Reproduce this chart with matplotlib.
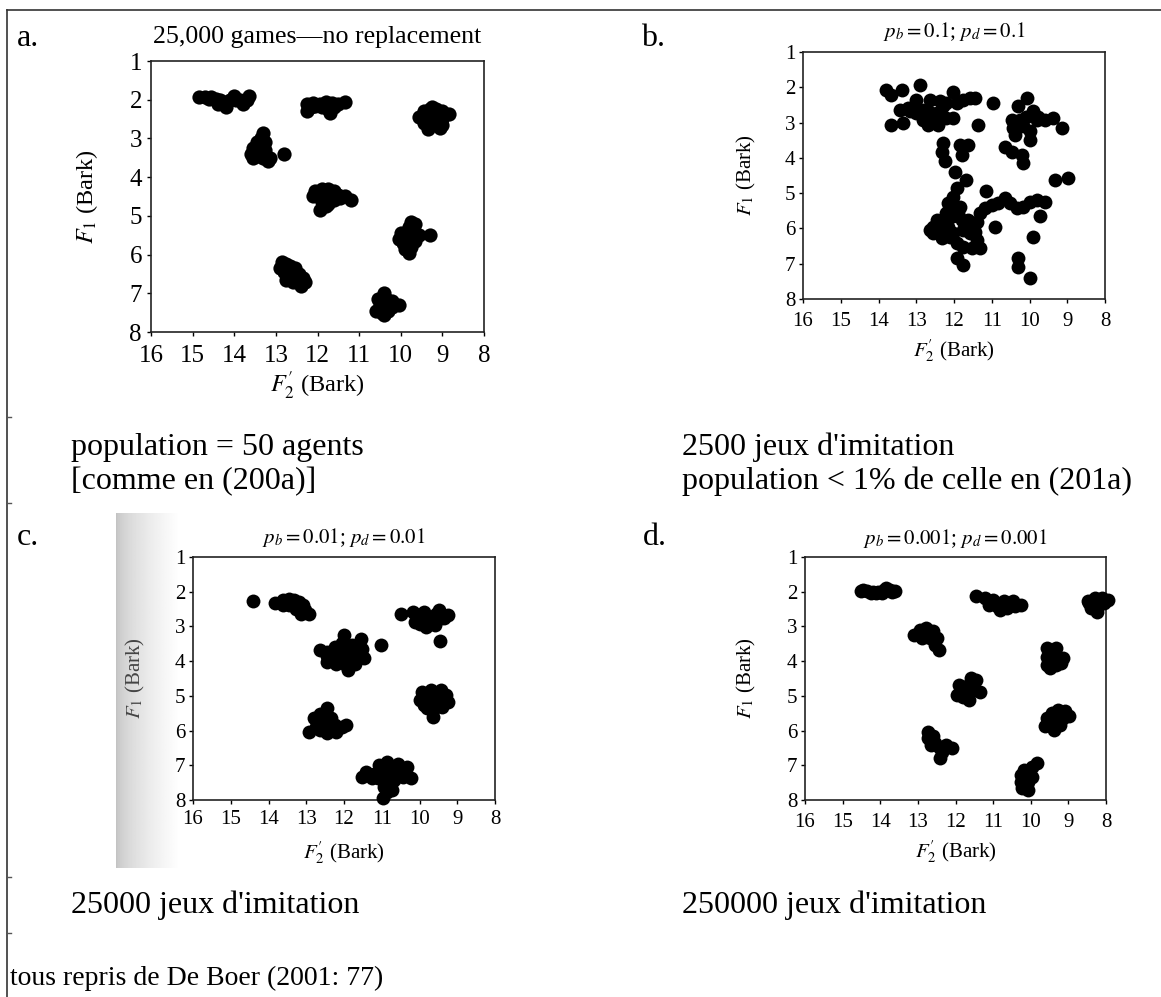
import numpy as np
import matplotlib.pyplot as plt
from matplotlib.lines import Line2D

plt.rcParams['font.family'] = 'serif'
plt.rcParams['font.serif'] = ['Liberation Serif', 'DejaVu Serif']
plt.rcParams['mathtext.fontset'] = 'stix'

W, H = 1161, 997

# vowel prototypes (F2', F1) in Bark
points_a = [
    (14.85, 1.93), (14.7, 1.93), (14.55, 1.92), (14.45, 1.97), (14.35, 2.0), (14.25, 2.05),
    (14.2, 2.2), (14.25, 2.12), (14.1, 2.0), (14.0, 1.9), (13.95, 2.0), (13.85, 2.0),
    (13.8, 2.1), (13.65, 1.9), (13.7, 2.0), (14.6, 1.98), (14.4, 2.1),
    (12.25, 2.1), (12.1, 2.08), (11.95, 2.1), (11.8, 2.05), (11.65, 2.08), (11.5, 2.1),
    (11.35, 2.07), (12.25, 2.3), (12.15, 2.2), (11.9, 2.2), (11.75, 2.25), (11.7, 2.35),
    (11.6, 2.2), (12.05, 2.15),
    (9.55, 2.45), (9.45, 2.3), (9.45, 2.6), (9.3, 2.25), (9.3, 2.45), (9.3, 2.65),
    (9.15, 2.25), (9.15, 2.45), (9.15, 2.6), (9.0, 2.3), (9.0, 2.5), (9.0, 2.65),
    (8.85, 2.38), (9.35, 2.75), (9.05, 2.72), (9.25, 2.2),
    (13.3, 2.85), (13.35, 3.0), (13.45, 3.1), (13.25, 3.1), (13.55, 3.25), (13.4, 3.25),
    (13.25, 3.3), (13.6, 3.4), (13.45, 3.45), (13.3, 3.5), (13.15, 3.5), (13.55, 3.5),
    (13.2, 3.58), (12.8, 3.4), (13.4, 3.38),
    (12.05, 4.35), (11.9, 4.3), (11.75, 4.3), (11.6, 4.35), (12.1, 4.5), (11.95, 4.5),
    (11.8, 4.5), (11.65, 4.5), (11.5, 4.45), (11.35, 4.5), (11.2, 4.6), (11.9, 4.65),
    (11.75, 4.7), (11.6, 4.6), (11.95, 4.85), (11.8, 4.75), (11.85, 4.4), (11.7, 4.42),
    (11.85, 4.6), (11.45, 4.55),
    (9.75, 5.15), (9.65, 5.2), (9.8, 5.3), (10.0, 5.45), (9.85, 5.45), (9.7, 5.45),
    (9.55, 5.5), (9.3, 5.5), (9.95, 5.7), (9.8, 5.6), (9.65, 5.65), (9.9, 5.85),
    (9.75, 5.8), (9.8, 5.95), (10.05, 5.6),
    (12.85, 6.2), (12.75, 6.25), (12.9, 6.35), (12.8, 6.45), (12.65, 6.3), (12.55, 6.35),
    (12.7, 6.55), (12.55, 6.55), (12.45, 6.5), (12.35, 6.6), (12.3, 6.7), (12.45, 6.7),
    (12.75, 6.65), (12.6, 6.7), (12.4, 6.8), (12.65, 6.45),
    (10.4, 7.0), (10.55, 7.15), (10.35, 7.15), (10.2, 7.2), (10.05, 7.3), (10.5, 7.3),
    (10.35, 7.35), (10.6, 7.45), (10.45, 7.5), (10.3, 7.45), (10.4, 7.55), (10.2, 7.35),
]

points_b = [
    (13.79, 2.07), (13.66, 2.21), (13.39, 2.07), (13.66, 3.06), (13.35, 3.02), (13.21, 2.59),
    (12.91, 1.93), (13.0, 2.35), (12.82, 2.64), (12.64, 2.35), (12.6, 2.73), (12.68, 3.06),
    (12.42, 3.06), (12.46, 2.73), (12.29, 2.54), (12.2, 2.87), (12.02, 2.12), (12.02, 2.87),
    (11.93, 2.45), (11.76, 2.35), (11.58, 2.31), (11.45, 2.31), (11.36, 3.06), (13.17, 2.68),
    (13.0, 2.73), (12.37, 2.4), (13.44, 2.64), (12.82, 2.92), (12.55, 2.92), (12.2, 2.45),
    (10.96, 2.45),
    (10.06, 2.31), (10.3, 2.54), (10.47, 2.92), (10.25, 2.92), (10.08, 2.83), (9.9, 2.68),
    (9.81, 2.92), (9.59, 2.92), (9.37, 2.87), (9.15, 3.16), (9.99, 3.25), (9.99, 3.49),
    (10.39, 3.35), (10.43, 3.16), (10.65, 3.68), (10.47, 3.82), (10.21, 3.91), (10.16, 4.15),
    (10.16, 3.11), (9.77, 2.83),
    (12.29, 3.58), (12.33, 3.82), (12.24, 4.1), (11.84, 3.63), (11.62, 3.63), (11.8, 3.91),
    (11.98, 4.39), (11.67, 4.62), (9.32, 4.62), (8.97, 4.58), (11.14, 4.95),
    (11.93, 4.86), (12.02, 5.1), (12.15, 5.29), (12.2, 5.57), (12.29, 5.76), (12.55, 5.95),
    (12.64, 6.04), (12.55, 6.14), (12.37, 6.14), (12.29, 6.04), (12.15, 5.95), (12.11, 6.23),
    (12.33, 6.28), (12.42, 5.95), (12.46, 5.76), (12.02, 5.66), (12.02, 5.38), (11.84, 5.38),
    (11.89, 5.57), (11.8, 5.76), (11.93, 6.42), (11.76, 6.52), (11.53, 6.56), (11.31, 6.56),
    (11.4, 6.33), (11.45, 6.09), (11.4, 5.81), (11.53, 5.95), (11.62, 5.76), (11.76, 6.04),
    (12.02, 6.14), (11.58, 6.14),
    (11.31, 5.57), (11.18, 5.43), (11.0, 5.33), (10.83, 5.29), (10.65, 5.14), (10.52, 5.29),
    (10.34, 5.43), (10.16, 5.38), (9.99, 5.24), (9.81, 5.19), (9.59, 5.24),
    (9.72, 5.66), (10.92, 5.95), (9.9, 6.23), (11.93, 6.85), (11.76, 7.04), (10.3, 6.85),
    (10.3, 7.08), (9.99, 7.41),
]

points_c = [
    (14.41, 2.28), (13.84, 2.32), (13.62, 2.25), (13.47, 2.2), (13.33, 2.25), (13.18, 2.29),
    (13.08, 2.39), (13.03, 2.53), (12.93, 2.63), (13.13, 2.63), (13.28, 2.49), (13.47, 2.39),
    (13.62, 2.39), (13.33, 2.34),
    (12.64, 3.68), (12.44, 3.73), (12.25, 3.59), (12.0, 3.25), (12.05, 3.49), (11.8, 3.54),
    (11.56, 3.35), (11.51, 3.64), (11.66, 3.88), (11.46, 3.92), (11.8, 3.83), (12.05, 3.83),
    (12.29, 3.88), (12.44, 4.02), (12.2, 4.07), (11.95, 4.12), (11.7, 4.07), (11.9, 4.26),
    (12.25, 3.97), (11.85, 3.68), (11.66, 3.68), (12.45, 3.85), (12.15, 3.75), (11.95, 3.95),
    (11.6, 3.8), (12.1, 3.9), (11.75, 3.95), (12.35, 3.75),
    (11.02, 3.54),
    (10.48, 2.63), (10.18, 2.58), (10.03, 2.73), (10.13, 2.87), (9.89, 2.58), (9.79, 2.82),
    (9.84, 3.01), (9.64, 2.73), (9.49, 2.53), (9.44, 2.77), (9.25, 2.68), (9.59, 2.97),
    (9.98, 2.92), (9.34, 2.77), (9.9, 2.75), (9.7, 2.85), (9.55, 2.65),
    (9.47, 3.42),
    (9.94, 4.88), (9.69, 4.84), (9.44, 4.84), (9.3, 4.98), (9.25, 5.17), (9.4, 5.31),
    (9.64, 5.41), (9.64, 5.6), (9.89, 5.27), (9.99, 5.12), (9.74, 5.12), (9.49, 5.12),
    (9.79, 5.36), (9.6, 5.0), (9.8, 4.95), (9.55, 5.25), (9.4, 5.15),
    (12.93, 6.03), (12.79, 5.65), (12.64, 5.51), (12.44, 5.36), (12.54, 5.7), (12.34, 5.65),
    (12.25, 5.84), (12.05, 5.89), (11.95, 5.84), (12.2, 6.03), (12.44, 6.08), (12.64, 5.99),
    (12.44, 5.84), (12.74, 5.89), (12.55, 5.85), (12.35, 5.8), (12.6, 5.7), (12.3, 5.95),
    (12.45, 5.6),
    (11.51, 7.33), (11.41, 7.18), (11.26, 7.38), (11.07, 6.99), (10.87, 6.9), (10.92, 7.18),
    (10.67, 7.09), (10.57, 6.95), (10.33, 7.04), (10.23, 7.38), (10.43, 7.33), (10.67, 7.42),
    (10.87, 7.52), (10.87, 7.76), (10.97, 7.95), (10.72, 7.71), (11.11, 7.38), (10.77, 7.28),
    (11.0, 7.25), (10.8, 7.35), (10.55, 7.25), (11.2, 7.25), (10.95, 7.45), (10.75, 7.55),
    (10.95, 7.62),
]

points_d = [
    (14.5, 1.97), (14.35, 1.98), (14.2, 2.0), (14.05, 2.02), (13.9, 1.95), (13.75, 1.95),
    (13.6, 1.97), (14.1, 2.05), (13.85, 1.9), (13.95, 2.05), (14.45, 1.95), (13.7, 2.02),
    (14.25, 2.03),
    (11.46, 2.12), (11.21, 2.18), (11.01, 2.23), (10.91, 2.42), (10.72, 2.28), (10.57, 2.33),
    (10.42, 2.42), (10.27, 2.38), (10.82, 2.52), (10.62, 2.47), (11.11, 2.37), (10.47, 2.28),
    (8.44, 2.33), (8.3, 2.18), (8.15, 2.28), (7.95, 2.25), (8.4, 2.47), (8.2, 2.42),
    (8.05, 2.33), (8.25, 2.57), (8.49, 2.28), (8.1, 2.18),
    (13.09, 3.24), (12.94, 3.1), (12.79, 3.05), (12.59, 3.14), (12.89, 3.34), (12.69, 3.34),
    (12.49, 3.34), (12.54, 3.53), (12.44, 3.67), (12.74, 3.19),
    (9.58, 3.63), (9.33, 3.63), (9.58, 3.87), (9.33, 3.87), (9.14, 3.91), (9.58, 4.11),
    (9.33, 4.11), (9.48, 4.2), (9.19, 4.06), (9.43, 3.75), (9.45, 3.99),
    (11.6, 4.49), (11.46, 4.54), (11.9, 4.68), (11.7, 4.73), (11.51, 4.83), (11.36, 4.88),
    (11.95, 4.97), (11.8, 5.02), (11.65, 5.12), (11.7, 4.88), (11.55, 4.65),
    (9.63, 5.88), (9.58, 5.64), (9.43, 5.5), (9.28, 5.4), (9.09, 5.45), (8.99, 5.59),
    (9.14, 5.64), (9.28, 5.64), (9.43, 5.78), (9.38, 5.98), (9.23, 5.83),
    (12.74, 6.03), (12.74, 6.22), (12.59, 6.17), (12.54, 6.37), (12.64, 6.41), (12.44, 6.46),
    (12.35, 6.61), (12.4, 6.8), (12.1, 6.51), (12.25, 6.41),
    (9.83, 6.92), (9.98, 7.04), (10.17, 7.13), (10.27, 7.28), (10.07, 7.28), (10.27, 7.47),
    (10.07, 7.47), (10.22, 7.66), (10.07, 7.71), (9.98, 7.33), (10.14, 7.57),
]

titles = ['25,000 games\u2014no replacement',
          r'$p_b = 0.1$; $p_d = 0.1$',
          r'$p_b = 0.01$; $p_d = 0.01$',
          r'$p_b = 0.001$; $p_d = 0.001$']
letters = ['a.', 'b.', 'c.', 'd.']
captions_left = ['population = 50 agents', '[comme en (200a)]', '25000 jeux d\'imitation']
captions_right = ['2500 jeux d\'imitation', 'population < 1% de celle en (201a)',
                  '250000 jeux d\'imitation']
source = 'tous repris de De Boer (2001: 77)'
f2_ticks = [16, 15, 14, 13, 12, 11, 10, 9, 8]
f1_ticks = [1, 2, 3, 4, 5, 6, 7, 8]

fig = plt.figure(figsize=(W / 100, H / 100), dpi=100)


def fx(x):
    return x / W


def fy(y):
    return 1 - y / H


def ptext(x, y, s, **kw):
    fig.text(fx(x), fy(y), s, **kw)


# page frame (table border) and scan shadow behind panel c
fig.add_artist(Line2D([fx(7), fx(7)], [0, fy(10)], color='#333333', lw=1.2))
fig.add_artist(Line2D([fx(7), 1], [fy(10), fy(10)], color='#333333', lw=1.2))
for yy in [417, 503, 877, 933]:
    fig.add_artist(Line2D([fx(7), fx(11)], [fy(yy), fy(yy)], color='#555555', lw=1))

shade = fig.add_axes([fx(116), fy(868), fx(180) - fx(116), fy(513) - fy(868)])
t = np.linspace(0, 1, 80) ** 0.6
shade.imshow(np.tile(0.76 + 0.24 * t, (10, 1)), cmap='gray', vmin=0, vmax=1,
             aspect='auto', interpolation='bilinear')
shade.axis('off')

# box = (left, top, right, bottom) in px; sizes in pt; baselines in px
layout = [
    dict(pts=points_a, box=(151, 61, 484, 332), tfs=18, lfs=17.5, hfs=18.6, tb=43, xb=393, yx=87, xpad=6, ypad=3.5, ms=105),
    dict(pts=points_b, box=(803, 52, 1105, 299), tfs=15, lfs=15, hfs=15, tb=37, xb=356, yx=746, xpad=6, ypad=2.5, ms=100),
    dict(pts=points_c, box=(193, 557, 495, 800), tfs=15, lfs=15, hfs=15, tb=543, xb=858, yx=135, xpad=4.5, ypad=2.5, ms=100),
    dict(pts=points_d, box=(805, 557, 1106, 800), tfs=15, lfs=15, hfs=15, tb=544, xb=857, yx=746, xpad=6, ypad=2.5, ms=100),
]

for i, p in enumerate(layout):
    l, t_, r, b = p['box']
    ax = fig.add_axes([fx(l), fy(b), fx(r) - fx(l), fy(t_) - fy(b)])
    f2 = [q[0] for q in p['pts']]
    f1 = [q[1] for q in p['pts']]
    ax.scatter(f2, f1, s=p['ms'], c='black', linewidths=0, clip_on=False, zorder=3)
    ax.set_xlim(16, 8)
    ax.set_ylim(8, 1)
    ax.set_xticks(f2_ticks)
    ax.set_yticks(f1_ticks)
    ax.tick_params(axis='x', labelsize=p['tfs'], direction='out', length=3, width=1, pad=p['xpad'])
    ax.tick_params(axis='y', labelsize=p['tfs'], direction='out', length=3, width=1, pad=p['ypad'])
    for s in ax.spines.values():
        s.set_linewidth(1.2)
        s.set_color('#222222')
    cx = (l + r) / 2
    cy = (t_ + b) / 2
    lab_col = '#444444' if i == 2 else 'black'
    ptext(cx, p['tb'], titles[i], fontsize=p['hfs'], ha='center', va='baseline')
    ptext(cx, p['xb'], r"$F_2'$ (Bark)", fontsize=p['lfs'], ha='center', va='baseline')
    ptext(p['yx'], cy, r'$F_1$ (Bark)', fontsize=p['lfs'], ha='center', va='center',
          rotation=90, color=lab_col)

# panel letters and captions
ptext(17, 46, letters[0], fontsize=23)
ptext(641, 46, letters[1], fontsize=23)
ptext(17, 545, letters[2], fontsize=23)
ptext(643, 545, letters[3], fontsize=23)

ptext(71, 455, captions_left[0], fontsize=23)
ptext(71, 489, captions_left[1], fontsize=23)
ptext(71, 913, captions_left[2], fontsize=23)
ptext(682, 455, captions_right[0], fontsize=23)
ptext(682, 489, captions_right[1], fontsize=23)
ptext(682, 913, captions_right[2], fontsize=23)
ptext(10, 985, source, fontsize=20)

fig.savefig('out.png', dpi=100)
